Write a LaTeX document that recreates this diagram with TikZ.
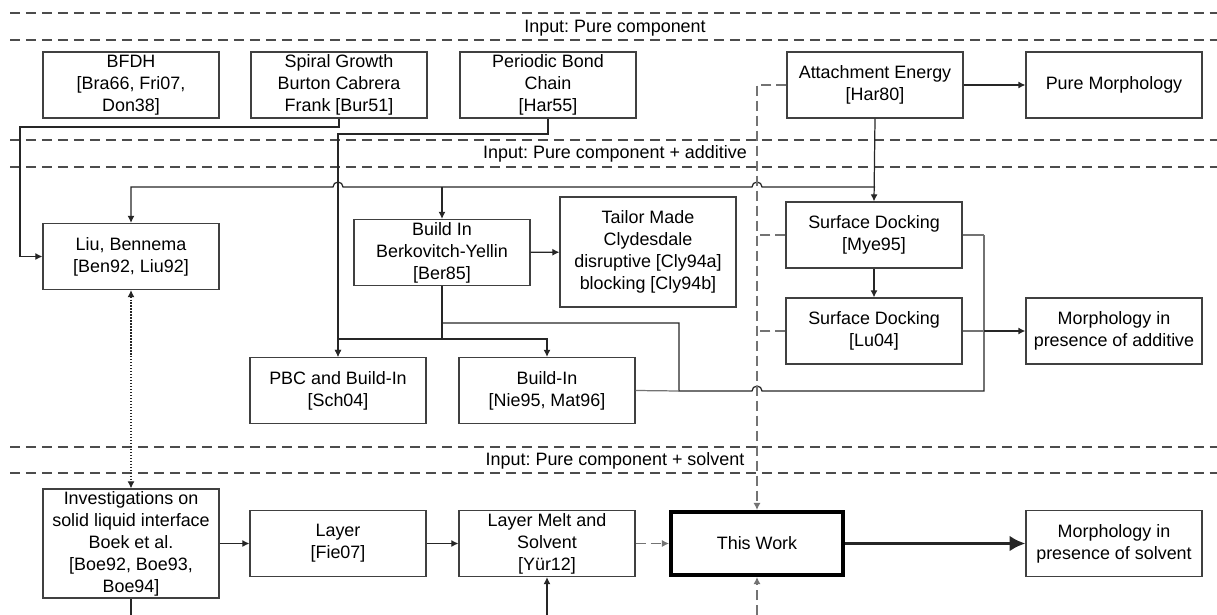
\documentclass[tikz,border=0pt]{standalone}
\usepackage{fontspec}
\setmainfont{Liberation Sans}
\usetikzlibrary{arrows.meta}
\frenchspacing

\begin{document}
\begin{tikzpicture}[x=0.02cm,y=-0.02cm,
	font=\fontsize{10.2}{12.5}\selectfont,
	box/.style={draw=black!75,line width=0.7pt,minimum width=3.52cm,minimum height=1.32cm,align=center,inner sep=1pt},
	conn/.style={draw=black!85,line width=0.7pt},
	lite/.style={draw=black!55,line width=0.7pt},
	band/.style={draw=black!70,line width=0.7pt,dash pattern=on 0.2cm off 0.12cm},
	ref/.style={draw=black!55,line width=0.7pt,dash pattern=on 0.2cm off 0.1cm},
	>={Latex[length=4pt,width=4pt]}]
	\useasboundingbox (0,0) rectangle (1217,615);

	% bands
	\draw [band] (10,13) -- (1217,13);
	\draw [band] (10,40) -- (1217,40);
	\node (inpure) at (615,28) {Input: Pure component};
	\draw [band] (10,140) -- (1217,140);
	\draw [band] (10,167) -- (1217,167);
	\node (inadd) at (615,154) {Input: Pure component + additive};
	\draw [band] (10,447) -- (1217,447);
	\draw [band] (10,473) -- (1217,473);
	\node (insol) at (615,461) {Input: Pure component + solvent};

	% pure component
	\node [box] (bfdh) at (131,85) {BFDH\\{[}Bra66, Fri07,\\Don38]};
	\node [box] (spiral) at (339,85) {Spiral Growth\\Burton Cabrera\\Frank [Bur51]};
	\node [box] (pbcn) at (548,85) {Periodic Bond\\Chain\\{[}Har55]};
	\node [box] (att) at (875,85) {Attachment Energy\\{[}Har80]};
	\node [box] (puremorph) at (1114,85) {Pure Morphology};

	% pure component + additive
	\node [box] (liu) at (131,256.5) {Liu, Bennema\\{[}Ben92, Liu92]};
	\node [box] (byin) at (442,252.5) {Build In\\Berkovitch-Yellin\\{[}Ber85]};
	\node [box,minimum height=2.2cm] (tailor) at (648,252) {Tailor Made\\Clydesdale\\disruptive [Cly94a]\\blocking [Cly94b]};
	\node [box] (mye) at (874,235) {Surface Docking\\{[}Mye95]};
	\node [box] (lu) at (874,331) {Surface Docking\\{[}Lu04]};
	\node [box] (addmorph) at (1114,331) {Morphology in\\presence of additive};
	\node [box] (pbcbi) at (338,390.5) {PBC and Build-In\\{[}Sch04]};
	\node [box] (buildin) at (547,390.5) {Build-In\\{[}Nie95, Mat96]};

	% pure component + solvent
	\node [box,minimum height=2.18cm] (boek) at (131,543.5) {Investigations on\\solid liquid interface\\Boek et al.\\{[}Boe92, Boe93,\\Boe94]};
	\node [box] (layer) at (338,543.5) {Layer\\{[}Fie07]};
	\node [box] (melt) at (547,543.5) {Layer Melt and\\Solvent\\{[}Yür12]};
	\node [box,line width=2pt,draw=black,minimum width=3.45cm,minimum height=1.27cm] (thiswork) at (757,543.5) {This Work};
	\node [box] (solmorph) at (1114,543.5) {Morphology in\\presence of solvent};

	\coordinate (hub) at (875,187);
	\coordinate (boekout) at (131,615);
	\coordinate (meltin) at (547,615);
	\coordinate (workin) at (757,615);

	% connectors
	\draw [conn,->] (att) -- (puremorph);
	\draw [conn,->] (spiral.south) |- (20,127) |- (liu.west);
	\draw [conn,->] (pbcn.south) |- (338,134) -- (pbcbi.north);
	\draw [conn,->] (att.south) -- (mye.north);
	\draw [conn,->] (hub) -- (762,187) arc [start angle=0,end angle=180,radius=0.1cm]
		-- (343,187) arc [start angle=0,end angle=180,radius=0.1cm] -| (liu.north);
	\draw [conn,->] (442,187) -- (byin.north);
	\draw [conn,->] (byin) -- (tailor);
	\draw [conn,->] (byin.south) -- (442,339) -| (buildin.north);
	\draw [conn,->] (442,339) -| (pbcbi.north);
	\draw [conn,->] (mye) -- (lu);
	\draw [conn] (442,323) -- (679,323) -- (679,391) -- (752,391)
		arc [start angle=180,end angle=0,radius=0.1cm] -- (984,391) -- (984,235);
	\draw [lite] (buildin.east) -- (679,391);
	\draw [lite] (mye.east) -- (984,235);
	\draw [lite] (lu.east) -- (984,331);
	\draw [conn,line width=1.1pt,->] (984,331) -- (addmorph.west);

	\draw [ref,->] (att.west) -| (thiswork.north);
	\draw [ref] (mye.west) -- (757,235);
	\draw [ref] (lu.west) -- (757,331);
	\draw [ref,->] (workin) -- (thiswork.south);
	\draw [ref,->] (melt) -- (thiswork);

	\draw [conn,densely dotted,<->] (liu.south) -- (boek.north);
	\draw [conn,->] (boek) -- (layer);
	\draw [conn,->] (layer) -- (melt);
	\draw [conn] (boek.south) -- (boekout);
	\draw [conn,->] (meltin) -- (melt.south);
	\draw [conn,line width=2pt,-{Latex[length=9pt,width=9pt]}] (thiswork) -- (solmorph);
\end{tikzpicture}
\end{document}
